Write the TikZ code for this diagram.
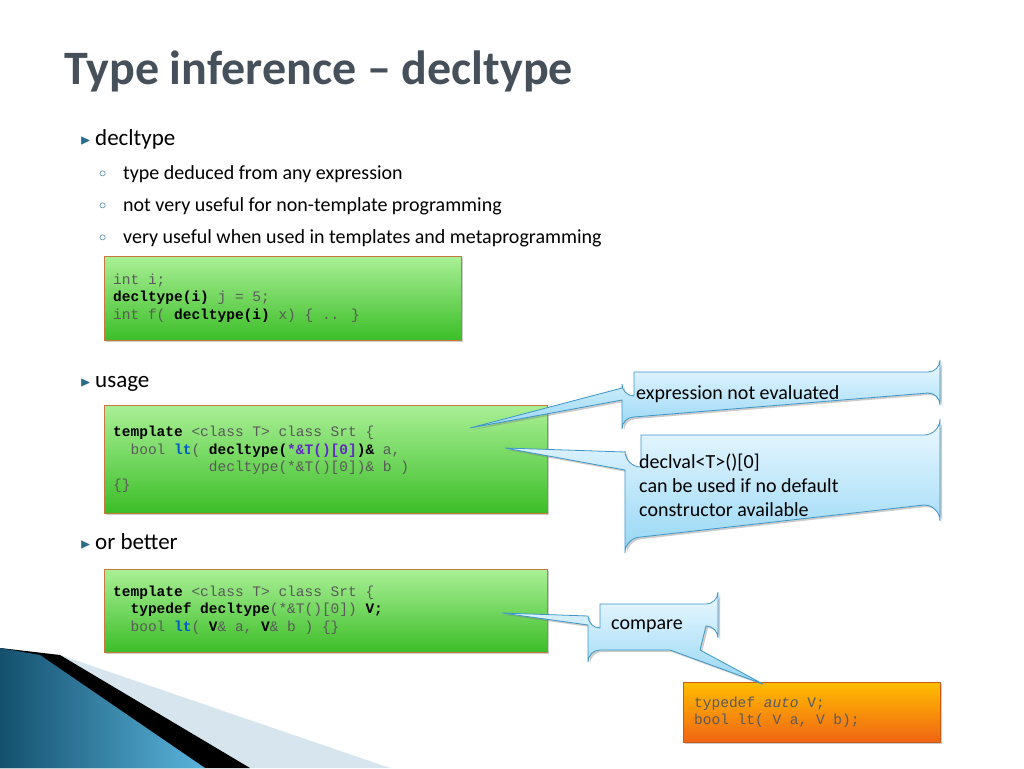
\documentclass[tikz,border=0pt]{standalone}
\usepackage{amssymb}
\usepackage{fontspec}
\setmainfont{Carlito}
\newfontfamily\codef{Liberation Mono}
\usetikzlibrary{shadows}
\definecolor{titlec}{RGB}{70,80,90}
\definecolor{bulc}{RGB}{40,110,140}
\definecolor{kw}{RGB}{0,90,200}
\definecolor{pur}{RGB}{100,40,200}
\definecolor{codeg}{RGB}{90,90,90}
\definecolor{gdraw}{RGB}{200,120,60}
\definecolor{gtop}{RGB}{170,240,150}
\definecolor{gbot}{RGB}{60,190,40}
\definecolor{odraw}{RGB}{200,90,20}
\definecolor{otop}{RGB}{255,190,0}
\definecolor{obot}{RGB}{240,100,20}
\definecolor{cdraw}{RGB}{60,150,200}
\definecolor{ctop}{RGB}{235,248,255}
\definecolor{cbot}{RGB}{150,215,245}
\definecolor{pale}{RGB}{215,230,238}
\definecolor{dblue}{RGB}{20,80,110}
\definecolor{lblue}{RGB}{90,180,220}
\tikzset{
 codebox/.style={draw=gdraw, line width=0.8pt, top color=gtop, bottom color=gbot, drop shadow={opacity=0.4,shadow xshift=2pt,shadow yshift=-2pt}},
 orbox/.style={draw=odraw, line width=0.8pt, top color=otop, bottom color=obot, drop shadow={opacity=0.4,shadow xshift=2pt,shadow yshift=-2pt}},
 callout/.style={draw=cdraw, line width=0.8pt, top color=ctop, bottom color=cbot, drop shadow={opacity=0.4,shadow xshift=2pt,shadow yshift=-2pt}},
 ctext/.style={anchor=west, font=\fontsize{14.5}{17.5}\selectfont\codef, text=codeg, align=left, inner sep=0},
 btext/.style={anchor=base west, inner sep=0},
}
\begin{document}
\begin{tikzpicture}[x=1pt,y=-1pt]
\useasboundingbox (0,0) rectangle (1024,768);
\fill[white] (0,0) rectangle (1024,768);
% bottom-left decoration
\fill[pale] (0,648) -- (60,655) -- (390,768) -- (0,768) -- cycle;
\fill[black] (0,648) -- (60,655) -- (250,768) -- (0,768) -- cycle;
\shade[left color=dblue, right color=lblue] (0,648) -- (40,655) -- (205,768) -- (0,768) -- cycle;
% title
\node[btext, text=titlec, font=\fontsize{48}{56}\selectfont\bfseries] (title) at (64,84) {Type inference -- decltype};
% bullets
\node[btext, text=bulc, font=\fontsize{14}{14}\selectfont] (b1) at (80,144) {$\blacktriangleright$};
\node[btext, font=\fontsize{23}{26}\selectfont] (t1) at (95,145) {decltype};
\foreach \yy/\txt [count=\i] in {179/type deduced from any expression, 211/not very useful for non-template programming, 243/very useful when used in templates and metaprogramming}{
 \node[btext, text=bulc, font=\fontsize{14}{14}\selectfont] (s\i) at (99,\yy-2) {$\circ$};
 \node[btext, font=\fontsize{20}{24}\selectfont] (st\i) at (123,\yy) {\txt};
}
\node[btext, text=bulc, font=\fontsize{14}{14}\selectfont] (b2) at (80,386) {$\blacktriangleright$};
\node[btext, font=\fontsize{23}{26}\selectfont] (t2) at (95,387) {usage};
\node[btext, text=bulc, font=\fontsize{14}{14}\selectfont] (b3) at (80,548) {$\blacktriangleright$};
\node[btext, font=\fontsize{23}{26}\selectfont] (t3) at (95,549) {or better};
% code box 1
\fill[codebox] (104,256) rectangle (461,340);
\node[ctext] (c1) at (113,298) {int i;\\\textcolor{black}{\textbf{decltype(i)}} j = 5;\\int f( \textcolor{black}{\textbf{decltype(i)}} x) \{ .. \}};
% code box 2
\fill[codebox] (104,405) rectangle (547,513);
\node[ctext] (c2) at (113,459) {\textcolor{black}{\textbf{template}} <class T> class Srt \{\\
\ \ bool \textcolor{kw}{\textbf{lt}}( \textcolor{black}{\textbf{decltype(}}\textcolor{pur}{\textbf{*\&T()[0]}}\textcolor{black}{\textbf{)\&}} a,\\
\ \ \ \ \ \ \ \ \ \ \ decltype(*\&T()[0])\& b )\\\{\}};
% code box 3
\fill[codebox] (104,569) rectangle (547,652);
\node[ctext] (c3) at (113,610) {\textcolor{black}{\textbf{template}} <class T> class Srt \{\\
\ \ \textcolor{black}{\textbf{typedef decltype}}(*\&T()[0]) \textcolor{black}{\textbf{V;}}\\
\ \ bool \textcolor{kw}{\textbf{lt}}( \textcolor{black}{\textbf{V}}\& a, \textcolor{black}{\textbf{V}}\& b ) \{\}};
% orange box
\fill[orbox] (683,682) rectangle (940,742);
\node[ctext] (c4) at (694,712) {typedef \textit{auto} V;\\bool lt( V a, V b);};
% callouts
\coordinate (p1) at (470,428);
\coordinate (p2) at (505,448);
\coordinate (p3) at (502,613);
\coordinate (p4) at (763,684);
\path[callout] (634,372) -- (928,372) arc(90:0:12) -- (940,405) arc(0:-90:12) -- (634,417) arc(270:180:12) -- (622,400) -- (p1) -- (622,388) -- (622,384) arc(180:90:12) -- cycle;
\node[anchor=west, font=\fontsize{20}{24}\selectfont, inner sep=0] (k1) at (636,394) {expression not evaluated};
\path[callout] (641,435) -- (924,435) arc(90:0:16) -- (940,521) arc(0:-90:16) -- (641,537) arc(270:180:16) -- (625,470) -- (p2) -- (625,452) -- (625,451) arc(180:90:16) -- cycle;
\node[anchor=west, font=\fontsize{20}{24}\selectfont, align=left, inner sep=0] (k2) at (639,485) {declval<T>()[0]\\can be used if no default\\constructor available};
\path[callout] (600,604) -- (706,604) arc(90:0:12) -- (718,638) arc(0:-90:12) -- (700,650) -- (p4) -- (670,650) -- (600,650) arc(270:180:12) -- (588,625) -- (p3) -- (588,616) arc(180:90:12) -- cycle;
\node[font=\fontsize{20}{24}\selectfont, inner sep=0] (k3) at (647,626) {compare};
\end{tikzpicture}
\end{document}
